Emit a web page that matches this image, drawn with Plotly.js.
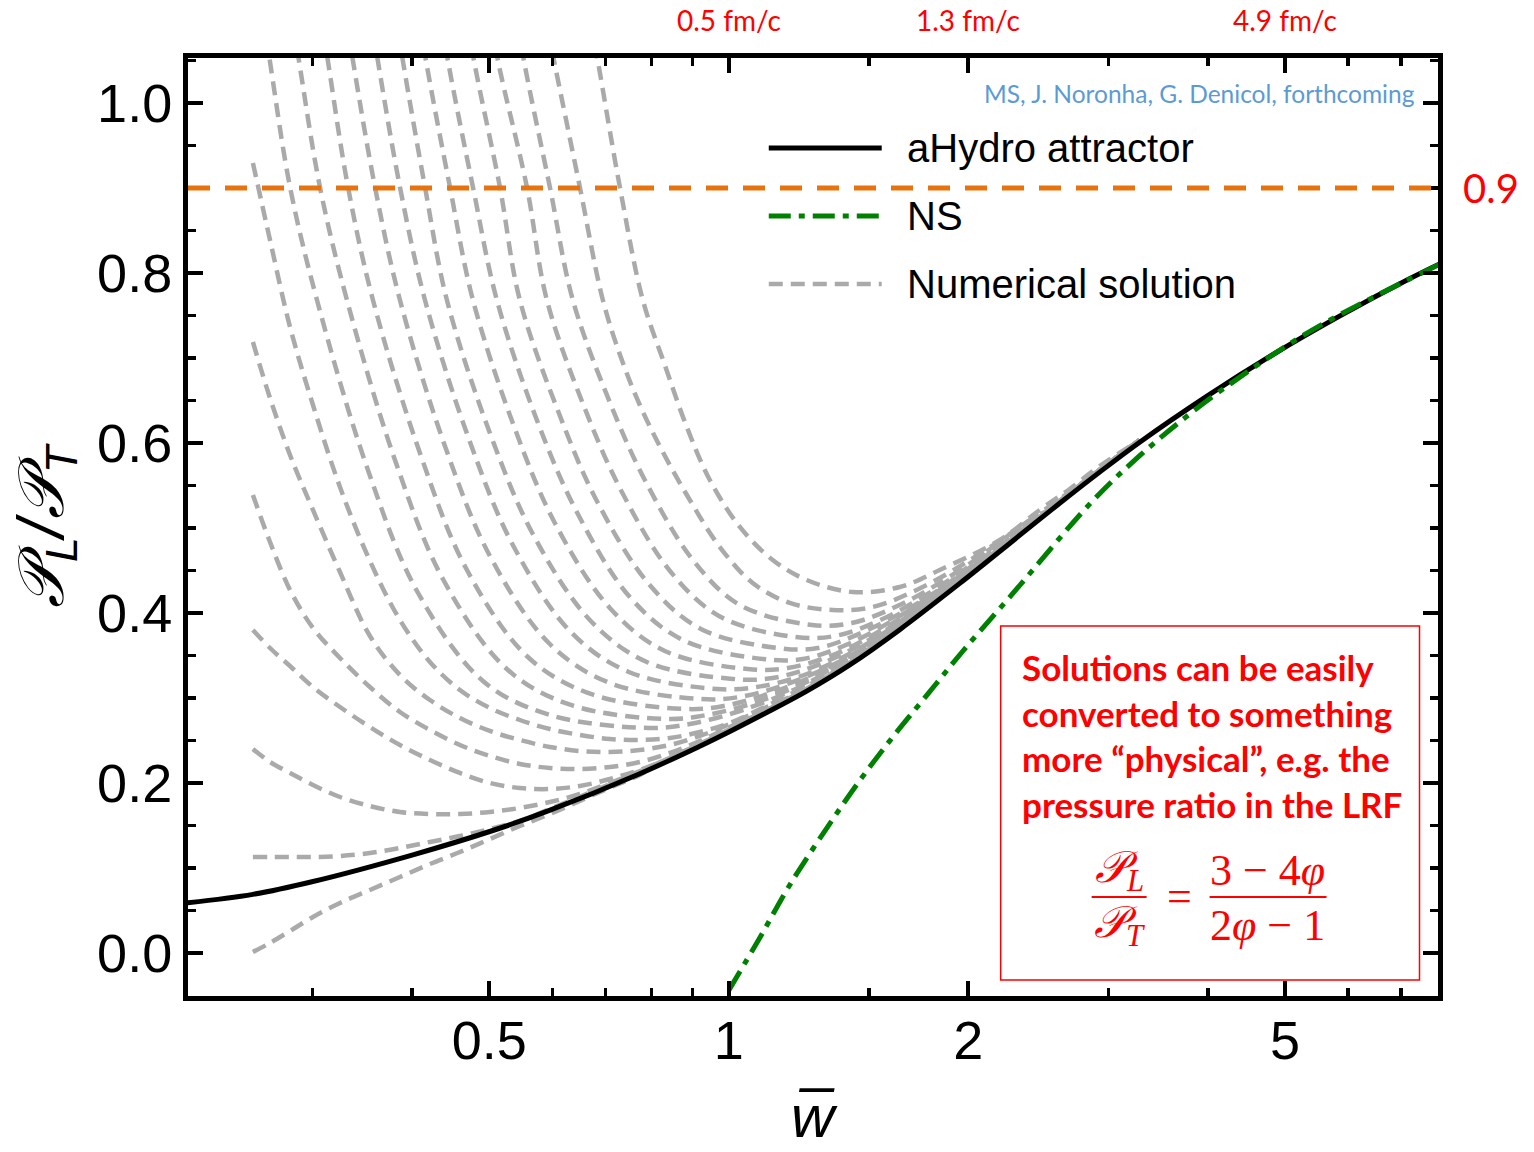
<!DOCTYPE html>
<html><head><meta charset="utf-8">
<script src="https://cdn.plot.ly/plotly-3.0.1.min.js"></script>
<style>html,body{margin:0;padding:0;background:#fff}#chart{width:1534px;height:1152px}</style>
</head><body><div id="chart"></div>
<script>
// ---------- data ----------
// aHydro attractor
const attW = [0.2073, 0.2523, 0.3002, 0.4009, 0.5052, 0.5906, 0.773, 0.9196, 1.003, 1.116, 1.253, 1.419, 1.64, 1.951, 2.301, 2.605, 2.925, 3.284, 3.986, 4.825, 5.856, 7.11, 7.934];
const attV = [0.0588, 0.069, 0.0841, 0.1155, 0.1441, 0.1665, 0.2109, 0.2433, 0.2606, 0.2829, 0.3081, 0.3389, 0.3804, 0.4348, 0.4886, 0.529, 0.5657, 0.6009, 0.6548, 0.7038, 0.7492, 0.7914, 0.8133];
// Navier-Stokes
const nsW = [1.0, 1.094, 1.193, 1.328, 1.461, 1.607, 1.773, 1.968, 2.275, 2.867, 3.284, 3.795, 4.475, 5.323, 6.442, 7.934];
const nsV = [-0.044, 0.018, 0.080, 0.147, 0.203, 0.254, 0.303, 0.355, 0.423, 0.532, 0.585, 0.634, 0.683, 0.729, 0.771, 0.813];
// common tail of the numerical solutions once merged with the attractor
const tailW = [0.773, 0.8431, 0.9196, 1.003, 1.116, 1.253, 1.419, 1.64, 1.895, 2.191, 2.531, 2.925, 3.284];
const tailV = [0.2134, 0.2296, 0.2458, 0.2631, 0.2854, 0.3106, 0.3414, 0.3829, 0.4281, 0.4751, 0.5221, 0.5682, 0.6034];
// lower numerical solutions on a shared w grid
const numW = [0.2523, 0.2651, 0.2809, 0.3002, 0.3246, 0.354, 0.3861, 0.4211, 0.4593, 0.5009, 0.5463, 0.5958, 0.6498, 0.7088, 0.773, 0.8431, 0.9196, 1.003, 1.116, 1.253];
const num0 = [0.0012, 0.0118, 0.0259, 0.0424, 0.0588, 0.0741, 0.0894, 0.1047, 0.1188, 0.1341, 0.1494, 0.1635, 0.179, 0.1945, 0.2095];
const num1 = [0.1129, 0.1129, 0.1129, 0.1129, 0.1141, 0.1176, 0.1235, 0.1306, 0.1376, 0.1459, 0.1553, 0.1695, 0.1838, 0.1985, 0.2125];
const num2 = [0.24, 0.2247, 0.2118, 0.1976, 0.1835, 0.1729, 0.1659, 0.1635, 0.1635, 0.1659, 0.1706, 0.1776, 0.1871, 0.2, 0.214];
const num3 = [0.38, 0.3588, 0.3376, 0.3129, 0.2894, 0.2659, 0.2447, 0.2271, 0.2118, 0.2, 0.1941, 0.1929, 0.1965, 0.2047, 0.2153, 0.2294, 0.2459];
const num4 = [0.5388, 0.4835, 0.4271, 0.3824, 0.3471, 0.3129, 0.2835, 0.2624, 0.2447, 0.2318, 0.2224, 0.2176, 0.2165, 0.2188, 0.2247, 0.2353, 0.2494, 0.2659];
const num5 = [0.7188, 0.6529, 0.5859, 0.5212, 0.4482, 0.3729, 0.3271, 0.2976, 0.2765, 0.2612, 0.2506, 0.2424, 0.2376, 0.2365, 0.2388, 0.2447, 0.2553, 0.2694, 0.2894];
const num6 = [0.9294, 0.8388, 0.7365, 0.6447, 0.5482, 0.4612, 0.3918, 0.3424, 0.3094, 0.2882, 0.2741, 0.2635, 0.2565, 0.2518, 0.2506, 0.2529, 0.26, 0.2706, 0.2906, 0.3141];
// upper numerical solutions (start above the frame)
const up1W = [0.2523, 0.2643, 0.2809, 0.3037, 0.3509, 0.4056, 0.4909, 0.5958, 0.7957, 0.8934, 1.0325, 1.2279, 1.5036];
const up1V = [1.1788, 1.0565, 0.9012, 0.7682, 0.5718, 0.4259, 0.32, 0.28, 0.2647, 0.2694, 0.2847, 0.3129, 0.36];
const up2W = [0.2753, 0.2875, 0.3063, 0.3312, 0.3806, 0.4372, 0.5261, 0.6331, 0.8358, 0.9384, 1.0842, 1.2898, 1.5795];
const up2V = [1.1659, 1.0565, 0.9012, 0.7682, 0.58, 0.44, 0.3341, 0.2918, 0.2753, 0.28, 0.2953, 0.3247, 0.3753];
const up3W = [0.2976, 0.3126, 0.3322, 0.3571, 0.4091, 0.4673, 0.5591, 0.6708, 0.878, 0.9857, 1.1388, 1.3548, 1.6591];
const up3V = [1.1824, 1.0565, 0.9012, 0.7682, 0.5882, 0.4529, 0.3482, 0.3047, 0.2871, 0.2906, 0.3071, 0.3376, 0.3894];
const up4W = [0.3199, 0.3361, 0.3592, 0.3861, 0.4398, 0.5009, 0.5958, 0.7088, 0.9196, 1.0325, 1.1929, 1.419, 1.7377];
const up4V = [1.1824, 1.0565, 0.9012, 0.7682, 0.5965, 0.4671, 0.3635, 0.3176, 0.2988, 0.3012, 0.3176, 0.3494, 0.4047];
const up5W = [0.3439, 0.3612, 0.3861, 0.4151, 0.4714, 0.5353, 0.6331, 0.7488, 0.9659, 1.0842, 1.253, 1.4905, 1.825];
const up5V = [1.1824, 1.0565, 0.9012, 0.7682, 0.6047, 0.48, 0.3776, 0.3306, 0.3106, 0.3129, 0.3282, 0.3635, 0.42];
const up6W = [0.3697, 0.3883, 0.4151, 0.4423, 0.5009, 0.5672, 0.6689, 0.7888, 1.0117, 1.1355, 1.3124, 1.5613, 1.9115];
const up6V = [1.1824, 1.0565, 0.9012, 0.7682, 0.6118, 0.4929, 0.3918, 0.3424, 0.3224, 0.3235, 0.3412, 0.3776, 0.4341];
const up7W = [0.3974, 0.4151, 0.4462, 0.4769, 0.5369, 0.6045, 0.7088, 0.831, 1.0563, 1.186, 1.3706, 1.6305, 1.9962];
const up7V = [1.1682, 1.0565, 0.9012, 0.7682, 0.62, 0.5059, 0.4059, 0.3553, 0.3341, 0.3353, 0.3529, 0.3918, 0.4482];
const up8W = [0.4235, 0.4423, 0.4769, 0.5111, 0.5738, 0.6442, 0.751, 0.8754, 1.1032, 1.2386, 1.4314, 1.7029, 2.0858];
const up8V = [1.1682, 1.0565, 0.9012, 0.7682, 0.6271, 0.5188, 0.4188, 0.3682, 0.3459, 0.3459, 0.3659, 0.4059, 0.4624];
const up9W = [0.4567, 0.4769, 0.5156, 0.5463, 0.6115, 0.6826, 0.7934, 0.9223, 1.1521, 1.2935, 1.4948, 1.7784, 2.1784];
const up9V = [1.1682, 1.0565, 0.9012, 0.7682, 0.6353, 0.5318, 0.4341, 0.3812, 0.3588, 0.3588, 0.38, 0.4188, 0.4776];
const up10W = [0.4894, 0.5111, 0.5575, 0.5907, 0.6574, 0.7317, 0.8455, 0.9772, 1.2102, 1.3587, 1.5703, 1.8678, 2.2882];
const up10V = [1.1682, 1.0565, 0.9012, 0.7682, 0.6435, 0.5447, 0.4482, 0.3953, 0.3718, 0.3729, 0.3941, 0.4353, 0.4941];
const up11W = [0.5277, 0.5511, 0.5958, 0.6368, 0.7068, 0.7843, 0.9012, 1.0325, 1.2713, 1.4272, 1.6495, 1.962, 2.4027];
const up11V = [1.1682, 1.0565, 0.9012, 0.7682, 0.6506, 0.5565, 0.4624, 0.4094, 0.3859, 0.3882, 0.4106, 0.4518, 0.5106];
const up12W = [0.5705, 0.601, 0.6498, 0.6946, 0.7338, 0.773, 0.8262, 0.8934, 0.9744, 1.0717, 1.1929, 1.3509, 1.5166, 1.7528, 2.0858, 2.553];
const up12V = [1.1624, 1.0565, 0.9012, 0.7682, 0.6976, 0.6447, 0.5894, 0.5329, 0.4776, 0.4353, 0.4118, 0.4035, 0.4071, 0.4306, 0.4718, 0.5282];
const up13W = [0.6498, 0.6826, 0.7296, 0.7797, 0.831, 0.8856, 0.9466, 1.0325, 1.1355, 1.253, 1.4314, 1.64, 1.841, 2.191, 2.4588, 2.6818, 2.925];
const up13V = [1.1706, 1.0565, 0.9012, 0.7682, 0.6918, 0.6188, 0.5565, 0.5012, 0.4624, 0.4388, 0.4247, 0.4306, 0.4506, 0.4859, 0.5212, 0.5459, 0.5729];
// reference level
const refLevel = 0.9;
// ticks
const xTickVals = [0.5, 1, 2, 5];
const xTickText = ['0.5', '1', '2', '5'];
const xMinorVals = [0.3, 0.4, 0.6, 0.7, 0.8, 0.9, 1.5, 3, 4, 6, 7];
const yTickVals = [0, 0.2, 0.4, 0.6, 0.8, 1.0];
const yTickText = ['0.0', '0.2', '0.4', '0.6', '0.8', '1.0'];
const yMinorVals = [-0.05, 0.05, 0.1, 0.15, 0.25, 0.3, 0.35, 0.45, 0.5, 0.55, 0.65, 0.7, 0.75, 0.85, 0.9, 0.95, 1.05];
// top time labels (at w ticks)
const timeLabelW = [1, 2, 5];
const timeLabelText = ['0.5 fm/c', '1.3 fm/c', '4.9 fm/c'];
const legendNames = ['aHydro attractor', 'NS', 'Numerical solution'];
const xTitle = '<i>w\u0305</i>';
const yTitle = '<i>\u{1D4AB}<sub>L</sub>/\u{1D4AB}<sub>T</sub></i>';

// ---------- build traces ----------
function withTail(w, v) {
  const W = w.slice(), V = v.slice();
  const last = W[W.length - 1];
  tailW.forEach((t, i) => { if (t > last * 1.02) { W.push(t); V.push(tailV[i]); } });
  return [W, V];
}
const GRAY = '#AAAAAA';
const grayLine = {color: GRAY, width: 4.5, dash: '14px,8px', shape: 'spline', smoothing: 1};
const traces = [];
[num0, num1, num2, num3, num4, num5, num6].forEach(v => {
  const [W, V] = withTail(numW.slice(0, v.length), v);
  traces.push({x: W, y: V, type: 'scatter', mode: 'lines', line: grayLine, name: legendNames[2], hoverinfo: 'skip'});
});
[[up1W, up1V], [up2W, up2V], [up3W, up3V], [up4W, up4V], [up5W, up5V], [up6W, up6V], [up7W, up7V],
 [up8W, up8V], [up9W, up9V], [up10W, up10V], [up11W, up11V], [up12W, up12V], [up13W, up13V]].forEach(([w, v]) => {
  const [W, V] = withTail(w, v);
  traces.push({x: W, y: V, type: 'scatter', mode: 'lines', line: grayLine, name: legendNames[2], hoverinfo: 'skip'});
});
traces.push({x: attW, y: attV, type: 'scatter', mode: 'lines', name: legendNames[0],
  line: {color: '#000', width: 5, shape: 'spline', smoothing: 1}});
traces.push({x: nsW, y: nsV, type: 'scatter', mode: 'lines', name: legendNames[1],
  line: {color: '#008000', width: 5, dash: '22px,8px,6px,8px', shape: 'spline', smoothing: 1}});

// ---------- layout ----------
const L = 188, R = 1438.5, T = 58, B = 996;
const px = x => (x - L) / (R - L);
const py = y => (B - y) / (B - T);
const RED = '#FF0000';
const axisFont = {family: 'Liberation Sans, Arial, sans-serif', size: 54, color: '#000'};
const serif = 'Liberation Serif, DejaVu Serif, serif';

const shapes = [
  {type: 'line', xref: 'paper', yref: 'y', x0: 0, x1: 1, y0: refLevel, y1: refLevel,
   line: {color: '#E8730C', width: 5, dash: '22px,15px'}},
  {type: 'line', xref: 'paper', yref: 'paper', x0: px(769), x1: px(882), y0: py(148), y1: py(148), line: {color: '#000', width: 5}},
  {type: 'line', xref: 'paper', yref: 'paper', x0: px(769), x1: px(882), y0: py(216), y1: py(216), line: {color: '#008000', width: 5, dash: '22px,8px,6px,8px'}},
  {type: 'line', xref: 'paper', yref: 'paper', x0: px(769), x1: px(882), y0: py(284), y1: py(284), line: {color: GRAY, width: 4.5, dash: '14px,8px'}},
  {type: 'rect', xref: 'paper', yref: 'paper', x0: px(1001), x1: px(1420), y0: py(980), y1: py(626),
   line: {color: RED, width: 1.5}, fillcolor: 'rgba(255,255,255,1)', layer: 'above'},
  {type: 'line', xref: 'paper', yref: 'paper', x0: px(1092), x1: px(1147), y0: py(897), y1: py(897), line: {color: RED, width: 2}},
  {type: 'line', xref: 'paper', yref: 'paper', x0: px(1210), x1: px(1327), y0: py(897), y1: py(897), line: {color: RED, width: 2}}
];

const annotations = [];
timeLabelW.forEach((w, i) => annotations.push({xref: 'x', yref: 'paper', x: Math.log10(w), y: py(20), text: timeLabelText[i],
  showarrow: false, xanchor: 'center', yanchor: 'middle', font: {family: 'Lato, sans-serif', size: 28, color: RED}}));
annotations.push({xref: 'paper', yref: 'paper', x: px(1417), y: py(93), text: 'MS, J. Noronha, G. Denicol, forthcoming',
  showarrow: false, xanchor: 'right', yanchor: 'middle', font: {family: 'Lato, sans-serif', size: 24.5, color: '#5B9BD5'}});
annotations.push({xref: 'paper', yref: 'y', x: px(1462), y: refLevel, text: '0.9', showarrow: false,
  xanchor: 'left', yanchor: 'middle', font: {family: 'Lato, sans-serif', size: 40, color: RED}});
[148, 216, 284].forEach((y, i) => annotations.push({xref: 'paper', yref: 'paper', x: px(905), y: py(y), text: legendNames[i],
  showarrow: false, xanchor: 'left', yanchor: 'middle', font: {family: 'Liberation Sans, Arial, sans-serif', size: 40, color: '#000'}}));
annotations.push({xref: 'paper', yref: 'paper', x: px(1020), y: py(735.5), align: 'left',
  text: '<b>Solutions can be easily<br>converted to something<br>more \u201cphysical\u201d, e.g. the<br>pressure ratio in the LRF</b>',
  showarrow: false, xanchor: 'left', yanchor: 'middle', font: {family: 'Lato, sans-serif', size: 35, color: RED}});
const fFont = {family: serif, size: 44, color: RED};
annotations.push({xref: 'paper', yref: 'paper', x: px(1120), y: py(870), text: '<i>\u{1D4AB}<sub>L</sub></i>', showarrow: false, xanchor: 'center', yanchor: 'middle', font: fFont});
annotations.push({xref: 'paper', yref: 'paper', x: px(1120), y: py(925), text: '<i>\u{1D4AB}<sub>T</sub></i>', showarrow: false, xanchor: 'center', yanchor: 'middle', font: fFont});
annotations.push({xref: 'paper', yref: 'paper', x: px(1180), y: py(896), text: '=', showarrow: false, xanchor: 'center', yanchor: 'middle', font: fFont});
annotations.push({xref: 'paper', yref: 'paper', x: px(1268), y: py(870), text: '3 \u2212 4<i>\u03C6</i>', showarrow: false, xanchor: 'center', yanchor: 'middle', font: fFont});
annotations.push({xref: 'paper', yref: 'paper', x: px(1268), y: py(925), text: '2<i>\u03C6</i> \u2212 1', showarrow: false, xanchor: 'center', yanchor: 'middle', font: fFont});
// x-axis title placed as an annotation so it can sit low in the bottom margin
annotations.push({xref: 'paper', yref: 'paper', x: px(815), y: py(1151), text: xTitle, showarrow: false,
  xanchor: 'center', yanchor: 'bottom', borderpad: 0, font: {family: 'Liberation Sans, Arial, sans-serif', size: 60, color: '#000'}});

const axisCommon = {
  showline: true, linecolor: '#000', linewidth: 5, mirror: 'ticks',
  ticks: 'inside', ticklen: 15, tickwidth: 4, tickcolor: '#000',
  showgrid: false, zeroline: false, tickfont: axisFont, automargin: false
};
const layout = {
  width: 1534, height: 1152,
  margin: {l: L, r: 1534 - R, t: T, b: 1152 - B, pad: 0},
  paper_bgcolor: '#fff', plot_bgcolor: '#fff', showlegend: false,
  xaxis: Object.assign({}, axisCommon, {
    type: 'log', range: [Math.log10(0.2091), Math.log10(7.786)],
    tickmode: 'array', tickvals: xTickVals, ticktext: xTickText, ticklabelstandoff: -7,
    minor: {tickmode: 'array', tickvals: xMinorVals, ticks: 'inside', ticklen: 8, tickwidth: 3.5, tickcolor: '#000'}
  }),
  yaxis: Object.assign({}, axisCommon, {
    range: [-0.0506, 1.0529],
    tickmode: 'array', tickvals: yTickVals, ticktext: yTickText,
    minor: {tickmode: 'array', tickvals: yMinorVals, ticks: 'inside', ticklen: 8, tickwidth: 3.5, tickcolor: '#000'},
    title: {text: yTitle, font: {family: 'Liberation Sans, DejaVu Sans, sans-serif', size: 64, color: '#000'}, standoff: 14}
  }),
  shapes: shapes,
  annotations: annotations
};
Plotly.newPlot('chart', traces, layout, {displayModeBar: false, staticPlot: true});
</script></body></html>
